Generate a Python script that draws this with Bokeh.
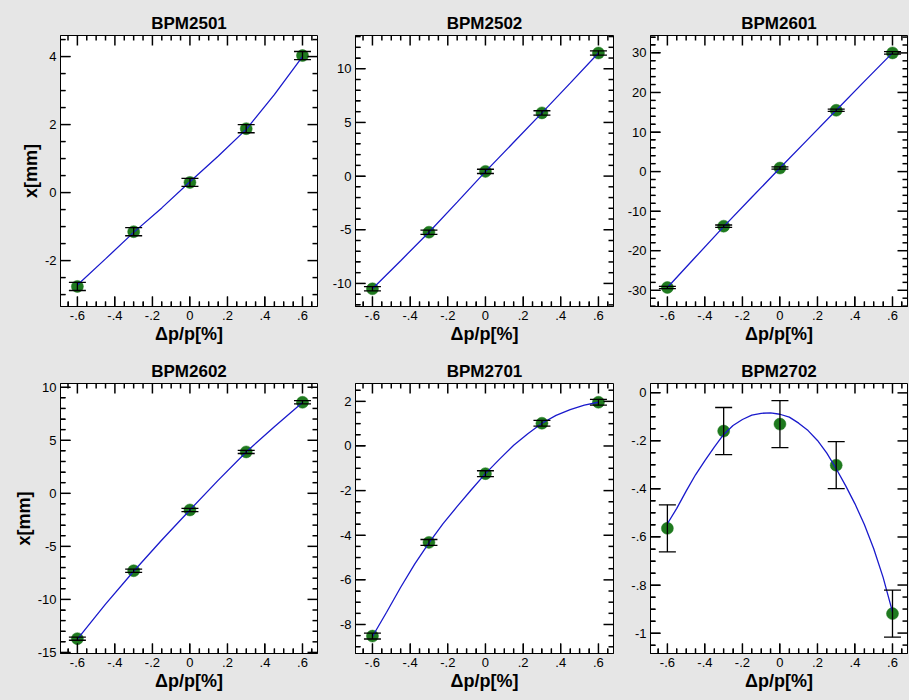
import math
from bokeh.plotting import figure
from bokeh.models import (Range1d, LinearAxis, SingleIntervalTicker, CustomJSTickFormatter,
                          ColumnDataSource, Whisker, TeeHead)
from bokeh.layouts import gridplot
from bokeh.embed import file_html
from bokeh.resources import INLINE

# ---------------- data ----------------
dp = [-0.6, -0.3, 0.0, 0.3, 0.6]
titles = ["BPM2501", "BPM2502", "BPM2601", "BPM2602", "BPM2701", "BPM2702"]

x_2501 = [-2.76, -1.15, 0.30, 1.88, 4.03]
e_2501 = [0.12, 0.12, 0.12, 0.12, 0.12]
x_2502 = [-10.5, -5.23, 0.44, 5.89, 11.47]
e_2502 = [0.2, 0.2, 0.2, 0.2, 0.2]
x_2601 = [-29.3, -13.8, 0.9, 15.5, 30.0]
e_2601 = [0.3, 0.3, 0.3, 0.3, 0.3]
x_2602 = [-13.7, -7.3, -1.57, 3.9, 8.58]
e_2602 = [0.15, 0.15, 0.15, 0.15, 0.15]
x_2701 = [-8.52, -4.32, -1.24, 1.02, 1.96]
e_2701 = [0.13, 0.13, 0.13, 0.13, 0.13]
x_2702 = [-0.564, -0.159, -0.13, -0.301, -0.919]
e_2702 = [0.098, 0.098, 0.098, 0.098, 0.098]

# fitted curves
fit_dp9 = [-0.6, -0.45, -0.3, -0.15, 0.0, 0.15, 0.3, 0.45, 0.6]
fit_2501 = [-2.72, -1.95, -1.17, -0.45, 0.32, 1.07, 1.86, 2.88, 4.00]
fit_2502 = [-10.5, -7.88, -5.23, -2.42, 0.42, 3.15, 5.89, 8.66, 11.47]
fit_2601 = [-29.3, -21.6, -13.9, -6.5, 0.9, 8.2, 15.5, 22.8, 30.0]
fit_2602 = [-13.75, -10.45, -7.35, -4.40, -1.57, 1.22, 3.90, 6.27, 8.55]
fit_dp17 = [-0.6, -0.525, -0.45, -0.375, -0.3, -0.225, -0.15, -0.075, 0.0,
            0.075, 0.15, 0.225, 0.3, 0.375, 0.45, 0.525, 0.6]
fit_2701 = [-8.54, -7.45, -6.33, -5.28, -4.34, -3.48, -2.71, -1.96, -1.24,
            -0.59, 0.03, 0.55, 1.02, 1.37, 1.63, 1.83, 1.96]
fit_dp25 = [-0.6, -0.55, -0.5, -0.45, -0.4, -0.35, -0.3, -0.25, -0.2, -0.15, -0.1,
            -0.05, 0.0, 0.05, 0.1, 0.15, 0.2, 0.25, 0.3, 0.35, 0.4, 0.45, 0.5, 0.55, 0.6]
fit_2702 = [-0.545, -0.481, -0.409, -0.341, -0.282, -0.226, -0.173, -0.136, -0.111,
            -0.093, -0.085, -0.083, -0.089, -0.101, -0.126, -0.157, -0.198, -0.251,
            -0.316, -0.386, -0.462, -0.548, -0.649, -0.768, -0.912]

x_label = "Δp/p[%]"
y_label = "x[mm]"

# ---------------- styling / layout ----------------
BG = "#e6e6e6"
GREEN = "#1f7a1f"
BLUE = "#1a1acc"
FONT = "Liberation Sans"
X_RANGE = (-0.69, 0.68)
X_STEP, X_MINOR = 0.2, 4
MAJOR_LEN, MINOR_LEN = 10, 5

fmt_code = """
const v = Math.round(tick*1e6)/1e6;
if (v === 0) return "0";
return String(v).replace(/^(-?)0\\./, "$1.");
"""


def tick_positions(lo, hi, step, n_minor):
    """Major and minor tick positions of an interval ticker inside [lo, hi]."""
    sub = step / n_minor
    k0 = math.ceil(lo / sub - 1e-9)
    k1 = math.floor(hi / sub + 1e-9)
    major, minor = [], []
    for k in range(k0, k1 + 1):
        v = round(k * sub, 9)
        (major if k % n_minor == 0 else minor).append(v)
    return major, minor


def label_axis(ax):
    ax.axis_line_color = "black"
    ax.major_tick_line_color = "black"
    ax.minor_tick_line_color = "black"
    ax.major_tick_in = MAJOR_LEN
    ax.major_tick_out = 0
    ax.minor_tick_in = MINOR_LEN
    ax.minor_tick_out = 0
    ax.major_label_text_font = FONT
    ax.major_label_text_font_size = "13px"
    ax.major_label_text_color = "black"
    ax.major_label_standoff = 4
    ax.axis_label_text_font = FONT
    ax.axis_label_text_font_size = "18px"
    ax.axis_label_text_font_style = "bold"
    ax.axis_label_text_color = "black"
    ax.axis_label_standoff = 1


def edge_ticks(p, yr, y_int, y_minor, fw, fh):
    """Inward tick marks on the four frame edges, as short segments inside the frame."""
    x0, x1 = X_RANGE
    y0, y1 = yr
    dx = (x1 - x0) / fw          # data units per pixel
    dy = (y1 - y0) / fh
    xmaj, xmin = tick_positions(x0, x1, X_STEP, X_MINOR)
    ymaj, ymin = tick_positions(y0, y1, y_int, y_minor)
    sx0, sy0, sx1, sy1 = [], [], [], []
    for xs, ln in ((xmaj, MAJOR_LEN), (xmin, MINOR_LEN)):
        for x in xs:
            sx0 += [x, x]; sx1 += [x, x]
            sy0 += [y0, y1]; sy1 += [y0 + ln * dy, y1 - ln * dy]
    for ys, ln in ((ymaj, MAJOR_LEN), (ymin, MINOR_LEN)):
        for y in ys:
            sy0 += [y, y]; sy1 += [y, y]
            sx0 += [x0, x1]; sx1 += [x0 + ln * dx, x1 - ln * dx]
    p.segment(x0=sx0, y0=sy0, x1=sx1, y1=sy1, line_color="black", line_width=1.5,
              level="overlay")


def panel(title, yr, y_int, y_minor, vals, errs, fx, fy, ylab,
          bl, br, bt, bb, fw, fh):
    p = figure(width=bl + fw + br, height=bt + fh + bb,
               x_range=Range1d(*X_RANGE), y_range=Range1d(*yr),
               x_axis_type=None, y_axis_type=None,
               output_backend="svg", toolbar_location=None,
               min_border_left=bl, min_border_right=br,
               min_border_top=bt, min_border_bottom=bb)
    p.background_fill_color = "white"
    p.border_fill_color = BG
    p.outline_line_color = "black"
    p.outline_line_width = 1
    p.title.text = title
    p.title.align = "center"
    p.title.text_font = FONT
    p.title.text_font_size = "17px"
    p.title.text_font_style = "bold"
    p.title.text_color = "black"
    p.title.standoff = 6

    bx = LinearAxis(ticker=SingleIntervalTicker(interval=X_STEP, num_minor_ticks=X_MINOR),
                    formatter=CustomJSTickFormatter(code=fmt_code), axis_label=x_label)
    label_axis(bx)
    p.add_layout(bx, "below")
    ly = LinearAxis(ticker=SingleIntervalTicker(interval=y_int, num_minor_ticks=y_minor),
                    formatter=CustomJSTickFormatter(code=fmt_code))
    label_axis(ly)
    if ylab is not None:
        ly.axis_label = ylab
    p.add_layout(ly, "left")

    edge_ticks(p, yr, y_int, y_minor, fw, fh)

    src = ColumnDataSource(dict(x=dp, y=vals,
                                lo=[v - e for v, e in zip(vals, errs)],
                                hi=[v + e for v, e in zip(vals, errs)]))
    p.scatter("x", "y", source=src, size=12, fill_color=GREEN,
              line_color=GREEN, line_width=0.5)
    p.line(fx, fy, line_color=BLUE, line_width=1.3)
    w = Whisker(base="x", upper="hi", lower="lo", source=src,
                line_color="black", line_width=1.3, level="annotation",
                upper_head=TeeHead(size=17, line_color="black", line_width=1.3),
                lower_head=TeeHead(size=17, line_color="black", line_width=1.3))
    p.add_layout(w)
    return p


FH_TOP = 271
FH_BOT = 270

p1 = panel(titles[0], (-3.35, 4.62), 2, 4, x_2501, e_2501, fit_dp9, fit_2501, y_label,
           60, 5, 35, 42, 257, FH_TOP)
p2 = panel(titles[1], (-12.15, 13.1), 5, 5, x_2502, e_2502, fit_dp9, fit_2502, None,
           33, 4, 35, 42, 258, FH_TOP)
p3 = panel(titles[2], (-34.1, 34.4), 10, 5, x_2601, e_2601, fit_dp9, fit_2601, None,
           33, 2, 35, 42, 257, FH_TOP)
p4 = panel(titles[3], (-15.1, 10.35), 5, 5, x_2602, e_2602, fit_dp9, fit_2602, y_label,
           60, 5, 35, 47, 257, FH_BOT)
p5 = panel(titles[4], (-9.3, 2.8), 2, 4, x_2701, e_2701, fit_dp17, fit_2701, None,
           33, 4, 35, 47, 258, FH_BOT)
p6 = panel(titles[5], (-1.085, 0.039), 0.2, 4, x_2702, e_2702, fit_dp25, fit_2702, None,
           33, 2, 35, 47, 257, FH_BOT)

grid = gridplot([[p1, p2, p3], [p4, p5, p6]], toolbar_location=None)
grid.styles = {"background-color": BG}

with open("out.html", "w") as f:
    f.write(file_html(grid, INLINE))
